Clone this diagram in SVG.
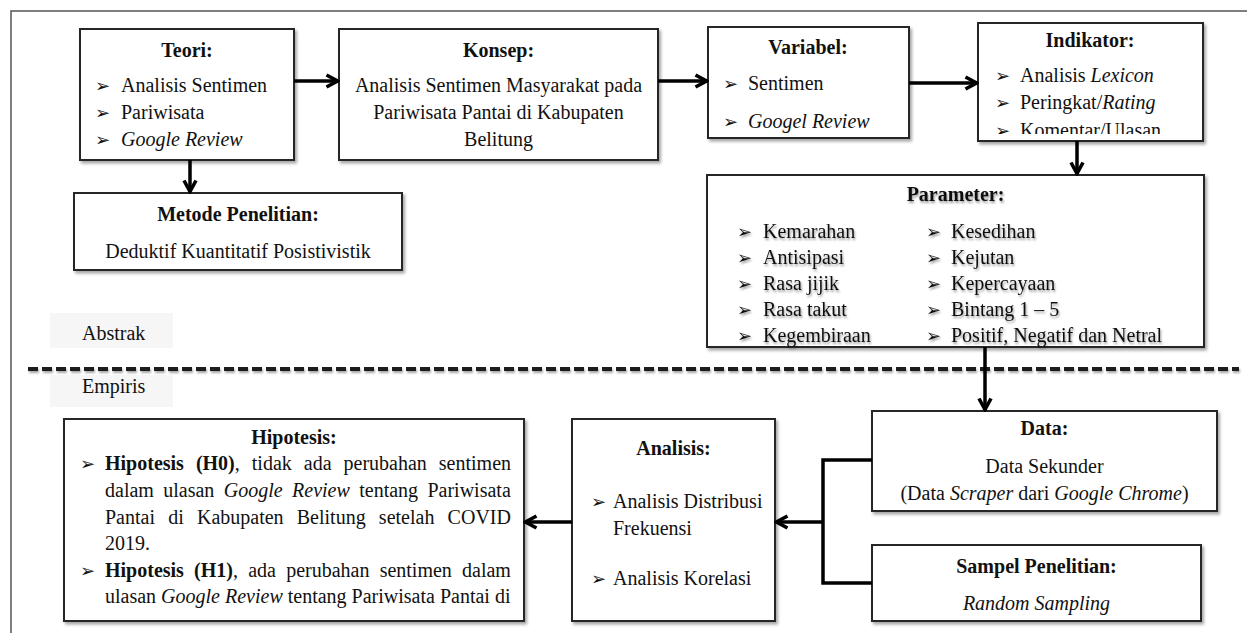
<svg xmlns="http://www.w3.org/2000/svg" width="1247" height="633" viewBox="0 0 1247 633">
<defs>
<style>
text{font-family:"Liberation Serif","Times New Roman",serif;font-size:20px;fill:#111}
.b{font-weight:bold}
.i{font-style:italic}
.c{text-anchor:middle}
.bul{font-family:"DejaVu Sans",sans-serif;font-size:18px;fill:#111}
.box{fill:#fff;stroke:#262626;stroke-width:2;filter:url(#sh)}
.con{fill:none;stroke:#000;stroke-width:3.5}
.frame{fill:none;stroke:#555;stroke-width:1.5}
.bg{fill:#f6f6f6}
.ps text{filter:url(#tsh)}
</style>
<filter id="sh" x="-5%" y="-5%" width="115%" height="120%">
<feDropShadow dx="2" dy="2.5" stdDeviation="1.5" flood-color="#000" flood-opacity="0.35"/>
</filter>
<filter id="tsh" x="-10%" y="-30%" width="120%" height="180%">
<feDropShadow dx="1" dy="2" stdDeviation="1.2" flood-color="#000" flood-opacity="0.4"/>
</filter>
<filter id="lsh" filterUnits="userSpaceOnUse" x="0" y="355" width="1247" height="30">
<feDropShadow dx="1" dy="2" stdDeviation="1.2" flood-color="#000" flood-opacity="0.35"/>
</filter>
<marker id="ah" viewBox="0 0 16 16" refX="14" refY="8" markerWidth="16" markerHeight="16" markerUnits="userSpaceOnUse" orient="auto">
<path d="M2.5,2 L13.5,8 L2.5,14" fill="none" stroke="#000" stroke-width="3.6"/>
</marker>
<clipPath id="indclip"><rect x="978" y="23" width="225" height="111"/></clipPath>
</defs>

<path class="frame" d="M11,633 V11 H1247"/>

<g id="teori">
<rect class="box" x="80" y="29" width="214" height="131"/>
<text class="b c" x="187" y="57">Teori:</text>
<text class="bul" x="95" y="92">➢</text><text x="121" y="92">Analisis  Sentimen</text>
<text class="bul" x="95" y="119">➢</text><text x="121" y="119">Pariwisata</text>
<text class="bul" x="95" y="146">➢</text><text class="i" x="121" y="146">Google Review</text>
</g>

<g id="konsep">
<rect class="box" x="339" y="29" width="319" height="131"/>
<text class="b c" x="498.5" y="57">Konsep:</text>
<text class="c" x="498.5" y="92">Analisis  Sentimen Masyarakat pada</text>
<text class="c" x="498.5" y="119">Pariwisata Pantai di Kabupaten</text>
<text class="c" x="498.5" y="146">Belitung</text>
</g>

<g id="variabel">
<rect class="box" x="708" y="27" width="201" height="111"/>
<text class="b c" x="808" y="54">Variabel:</text>
<text class="bul" x="723" y="90">➢</text><text x="748" y="90">Sentimen</text>
<text class="bul" x="723" y="128">➢</text><text class="i" x="748" y="128">Googel Review</text>
</g>

<g id="indikator">
<rect class="box" x="978" y="23" width="225" height="118"/>
<text class="b c" x="1090" y="47">Indikator:</text>
<text class="bul" x="995" y="82">➢</text><text x="1020" y="82">Analisis  <tspan class="i">Lexicon</tspan></text>
<text class="bul" x="995" y="109">➢</text><text x="1020" y="109">Peringkat/<tspan class="i">Rating</tspan></text>
<g clip-path="url(#indclip)">
<text class="bul" x="995" y="136.5">➢</text><text x="1020" y="136.5">Komentar/Ulasan</text>
</g>
</g>

<g id="metode">
<rect class="box" x="74" y="193" width="328" height="77"/>
<text class="b c" x="238" y="221">Metode Penelitian:</text>
<text class="c" x="238" y="258">Deduktif Kuantitatif Posistivistik</text>
</g>

<g id="parameter">
<rect class="box" x="707" y="175" width="497" height="172"/>
<g class="ps">
<text class="b c" x="955.5" y="201">Parameter:</text>
<text class="bul" x="737" y="238">➢</text><text x="763" y="238">Kemarahan</text>
<text class="bul" x="737" y="264">➢</text><text x="763" y="264">Antisipasi</text>
<text class="bul" x="737" y="290">➢</text><text x="763" y="290">Rasa jijik</text>
<text class="bul" x="737" y="316">➢</text><text x="763" y="316">Rasa takut</text>
<text class="bul" x="737" y="342">➢</text><text x="763" y="342">Kegembiraan</text>
<text class="bul" x="926" y="238">➢</text><text x="951" y="238">Kesedihan</text>
<text class="bul" x="926" y="264">➢</text><text x="951" y="264">Kejutan</text>
<text class="bul" x="926" y="290">➢</text><text x="951" y="290">Kepercayaan</text>
<text class="bul" x="926" y="316">➢</text><text x="951" y="316">Bintang  1 – 5</text>
<text class="bul" x="926" y="342">➢</text><text x="951" y="342">Positif, Negatif dan Netral</text>
</g>
</g>

<g id="abstrak">
<rect class="bg" x="50" y="313" width="123" height="35"/>
<text x="82" y="340">Abstrak</text>
</g>

<path d="M28,369 H1239" fill="none" stroke="#1a1a1a" stroke-width="4" stroke-dasharray="10 4" filter="url(#lsh)"/>

<g id="empiris">
<rect class="bg" x="50" y="375" width="123" height="32"/>
<text x="82" y="393">Empiris</text>
</g>

<g id="data">
<rect class="box" x="872" y="411" width="345" height="100"/>
<text class="b c" x="1044.5" y="435">Data:</text>
<text class="c" x="1044.5" y="473">Data Sekunder</text>
<text class="c" x="1044.5" y="500">(Data <tspan class="i">Scraper</tspan> dari <tspan class="i">Google Chrome</tspan>)</text>
</g>

<g id="sampel">
<rect class="box" x="872" y="545" width="329" height="76"/>
<text class="b c" x="1036.5" y="573">Sampel Penelitian:</text>
<text class="i c" x="1036.5" y="610">Random Sampling</text>
</g>

<g id="analisis">
<rect class="box" x="572" y="419" width="203" height="202"/>
<text class="b c" x="673.5" y="455">Analisis:</text>
<text class="bul" x="591" y="508">➢</text><text x="613" y="508">Analisis  Distribusi</text>
<text x="613" y="535">Frekuensi</text>
<text class="bul" x="591" y="585">➢</text><text x="613" y="585">Analisis  Korelasi</text>
</g>

<g id="hipotesis">
<rect class="box" x="64" y="419" width="460" height="202"/>
<text class="b c" x="294" y="444">Hipotesis:</text>
<text class="bul" x="80" y="470">➢</text>
<text x="105" y="470" style="word-spacing:7px"><tspan class="b">Hipotesis (H0)</tspan>, tidak ada perubahan sentimen</text>
<text x="105" y="497" style="word-spacing:4.4px">dalam ulasan <tspan class="i">Google Review</tspan> tentang Pariwisata</text>
<text x="105" y="524" style="word-spacing:8.2px">Pantai di Kabupaten Belitung setelah COVID</text>
<text x="105" y="550">2019.</text>
<text class="bul" x="80" y="577">➢</text>
<text x="105" y="577" style="word-spacing:5.2px"><tspan class="b">Hipotesis (H1)</tspan>, ada perubahan sentimen dalam</text>
<text x="105" y="603">ulasan <tspan class="i">Google Review</tspan> tentang Pariwisata Pantai di</text>
</g>

<g id="connectors">
<path class="con" d="M294,81 H338" marker-end="url(#ah)"/>
<path class="con" d="M658,81 H707" marker-end="url(#ah)"/>
<path class="con" d="M909,83 H977" marker-end="url(#ah)"/>
<path class="con" d="M190,160 V192" marker-end="url(#ah)"/>
<path class="con" d="M1077,141 V174" marker-end="url(#ah)"/>
<path class="con" d="M985,347 V410" marker-end="url(#ah)"/>
<path class="con" d="M872,460 H823 V583 H872"/>
<path class="con" d="M823,522 H776" marker-end="url(#ah)"/>
<path class="con" d="M572,522 H525" marker-end="url(#ah)"/>
</g>
</svg>
